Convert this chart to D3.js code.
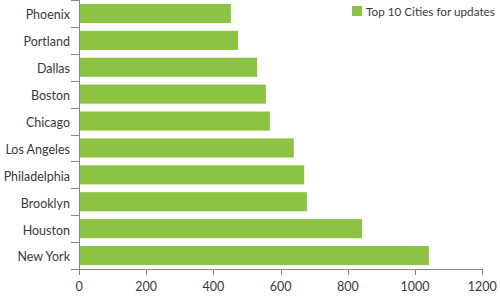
<!DOCTYPE html>
<html><head><meta charset="utf-8">
<script src="https://cdn.jsdelivr.net/npm/d3@7"></script>
<style>body{margin:0;background:#fff;} text{font-family:Lato,"Noto Sans",sans-serif;}</style>
</head><body><svg id="c" width="500" height="300"></svg>
<script>
const cities = ["Phoenix","Portland","Dallas","Boston","Chicago","Los Angeles","Philadelphia","Brooklyn","Houston","New York"];
const updates = [452,473,530,556,568,639,670,678,842,1041];
const xTicks = [0,200,400,600,800,1000,1200];
const seriesName = "Top 10 Cities for updates";

(function(){
const svg = d3.select("#c");
const mL = 79, mR = 482.3, mT = 0, mB = 269;
const x = d3.scaleLinear().domain([0,1200]).range([mL,mR]);
const y = d3.scaleBand().domain(cities).range([mT,mB]).paddingInner(0.29).paddingOuter(0.145);
const yb = d3.scaleBand().domain(cities).range([mT,mB]);
const green = "#8dc343", axisCol = "#888", txt = "#3a3a3a";
const fs = 12.5;

svg.selectAll("rect.bar").data(cities).enter().append("rect")
  .attr("x", x(0)).attr("y", d=>y(d))
  .attr("width", (d,i)=>x(updates[i])-x(0)).attr("height", y.bandwidth())
  .attr("fill", green);

svg.append("line").attr("x1",mL+0.5).attr("x2",mL+0.5).attr("y1",mT).attr("y2",mB).attr("stroke",axisCol);
const bounds = cities.map(c=>yb(c)).concat([mB]);
svg.selectAll("line.yt").data(bounds).enter().append("line")
  .attr("x1",mL-8).attr("x2",mL).attr("y1",d=>Math.round(d)+0.5).attr("y2",d=>Math.round(d)+0.5).attr("stroke",axisCol);
svg.selectAll("text.yl").data(cities).enter().append("text")
  .attr("x",70).attr("y",d=>yb(d)+yb.bandwidth()/2+1.5).attr("dy","0.35em")
  .attr("text-anchor","end").attr("font-size",fs).attr("fill",txt).text(d=>d);

svg.append("line").attr("x1",mL).attr("x2",mR+0.5).attr("y1",mB+0.5).attr("y2",mB+0.5).attr("stroke",axisCol);
svg.selectAll("line.xt").data(xTicks).enter().append("line")
  .attr("x1",d=>Math.round(x(d))+0.5).attr("x2",d=>Math.round(x(d))+0.5).attr("y1",mB).attr("y2",mB+6).attr("stroke",axisCol);
svg.selectAll("text.xl").data(xTicks).enter().append("text")
  .attr("x",d=>x(d)).attr("y",287).attr("dy","0.35em").attr("text-anchor","middle")
  .attr("font-size",fs).attr("fill",txt).text(d=>d);

const lg = svg.append("g");
lg.append("rect").attr("x",352).attr("y",6).attr("width",10).attr("height",10).attr("fill",green);
const lt = lg.append("text").attr("x",366).attr("y",11.5).attr("dy","0.35em").attr("font-size",fs).attr("fill",txt).text(seriesName);
const w = lt.node().getComputedTextLength();
if (w > 129) lt.attr("font-size", fs*129/w);
})();
</script></body></html>
